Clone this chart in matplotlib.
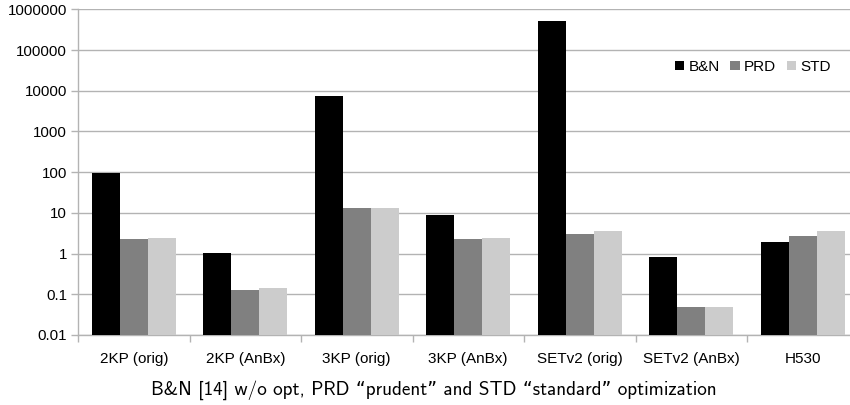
import numpy as np
from matplotlib import pyplot as plt
from matplotlib.patches import Patch

categories = ['2KP (orig)', '2KP (AnBx)', '3KP (orig)', '3KP (AnBx)',
              'SETv2 (orig)', 'SETv2 (AnBx)', 'H530']
bn = [95, 1.05, 7250, 8.9, 518000, 0.83, 1.9]
prd = [2.33, 0.128, 13.3, 2.3, 2.98, 0.049, 2.66]
std = [2.47, 0.143, 13.3, 2.48, 3.53, 0.049, 3.53]
series = ['B&N', 'PRD', 'STD']
colors = ['#000000', '#808080', '#cccccc']

y_ticks = [0.01, 0.1, 1, 10, 100, 1000, 10000, 100000, 1000000]
y_labels = ['0.01', '0.1', '1', '10', '100', '1000', '10000', '100000', '1000000']

caption = 'B&N [14] w/o opt, PRD \u201cprudent\u201d and STD \u201cstandard\u201d optimization'

plt.rcParams['font.family'] = ['Liberation Sans', 'DejaVu Sans']

fig = plt.figure(figsize=(8.5, 4.05), dpi=100)
ax = fig.add_axes([78 / 850, 1 - 335 / 405, 780.5 / 850, (335 - 9.3) / 405])

x = np.arange(len(categories))
w = 0.25
for i, (vals, name, c) in enumerate(zip([bn, prd, std], series, colors)):
    ax.bar(x + (i - 1) * w, vals, width=w, color=c, label=name, zorder=3)

ax.set_yscale('log')
ax.set_ylim(0.01, 1000000)
ax.set_yticks(y_ticks)
ax.set_yticklabels(y_labels)
ax.minorticks_off()
ax.yaxis.grid(True, color='#b3b3b3', linewidth=1, zorder=0)

ax.set_xlim(-0.5, len(categories) - 0.5)
ax.set_xticks(x)
ax.set_xticklabels(categories)
ax.set_xticks(np.arange(len(categories) + 1) - 0.5, minor=True)
ax.tick_params(axis='x', which='major', length=0, pad=12, labelsize=11)
ax.tick_params(axis='x', which='minor', length=5, color='#b3b3b3', width=1)
ax.tick_params(axis='y', length=5, color='#b3b3b3', width=1, labelsize=10.8, pad=3)

for s in ['top', 'right']:
    ax.spines[s].set_visible(False)
for s in ['left', 'bottom']:
    ax.spines[s].set_color('#b3b3b3')
    ax.spines[s].set_linewidth(1)

handles = [Patch(facecolor=c, label=n) for c, n in zip(colors, series)]
fig.legend(handles=handles, loc='center right', bbox_to_anchor=(845 / 850, 1 - 67 / 405),
           ncol=3, frameon=False, fontsize=11, handlelength=0.6, handleheight=0.6,
           handletextpad=0.3, columnspacing=0.7)

fig.text(0.5 * (152 + 715) / 850, 1 - 390 / 405, caption, ha='center', va='center',
         fontsize=13.8, family=['cmss10', 'DejaVu Sans'])

fig.savefig('out.png', dpi=100)
